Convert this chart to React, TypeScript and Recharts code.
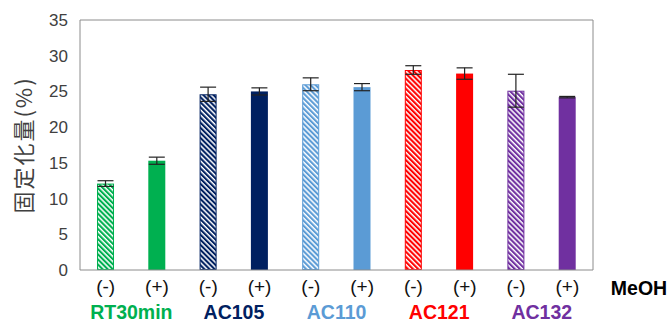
import React from 'react';
import { BarChart, Bar, XAxis, YAxis, ErrorBar, ReferenceLine } from 'recharts';

const categories = ['(-)', '(+)', '(-)', '(+)', '(-)', '(+)', '(-)', '(+)', '(-)', '(+)'];
const groups = ['RT30min', 'AC105', 'AC110', 'AC121', 'AC132'];
const values = [12.1, 15.3, 24.6, 25.0, 26.0, 25.6, 28.0, 27.5, 25.1, 24.2];
const errors = [0.4, 0.5, 1.0, 0.5, 0.9, 0.5, 0.6, 0.8, 2.3, 0.1];
const groupColors = ['#00B050', '#002060', '#5B9BD5', '#FF0000', '#7030A0'];
const yTicks = [0, 5, 10, 15, 20, 25, 30, 35];

const data = categories.map((c, i) => ({
  key: `${i}`,
  label: c,
  value: values[i],
  err: errors[i],
}));

const FONT = '"Liberation Sans", Arial, sans-serif';

const BarShape = (props: any) => {
  const { x, y, width, height, index } = props;
  const g = Math.floor(index / 2);
  const color = groupColors[g];
  const hatched = index % 2 === 0;
  const pid = `hatch-${index}`;
  if (!hatched) {
    return <rect x={x} y={y} width={width} height={height} fill={color} />;
  }
  return (
    <g>
      <defs>
        <pattern id={pid} width={3.6} height={3.6} patternUnits="userSpaceOnUse" patternTransform="rotate(-45)">
          <rect x={0} y={0} width={3.6} height={3.6} fill="#ffffff" />
          <rect x={0} y={0} width={2.1} height={3.6} fill={color} />
        </pattern>
      </defs>
      <rect x={x + 0.5} y={y + 0.5} width={width - 1} height={Math.max(0, height - 1)} fill={`url(#${pid})`} stroke={color} strokeWidth={1} />
    </g>
  );
};

const XTick = (props: any) => {
  const { x, y, payload, index } = props;
  const i = index ?? payload.index;
  return (
    <g>
      <text x={x} y={y + 15} textAnchor="middle" fontSize={19} fill="#111" fontFamily={FONT}>
        {categories[i]}
      </text>
      {i % 2 === 1 && (
        <text x={x - 25.6} y={y + 41} textAnchor="middle" fontSize={19.5} fontWeight="bold" fill={groupColors[(i - 1) / 2]} fontFamily={FONT}>
          {groups[(i - 1) / 2]}
        </text>
      )}
    </g>
  );
};

export default function App() {
  return (
    <div style={{ position: 'absolute', left: 0, top: 0, background: '#fff' }}>
      <BarChart width={669} height={324} data={data} margin={{ top: 20, right: 75, bottom: 0, left: 40 }} barCategoryGap={0}>
        <XAxis
          dataKey="key"
          height={54}
          tickLine={false}
          axisLine={{ stroke: '#8c8c8c' }}
          tick={<XTick />}
          interval={0}
        />
        <YAxis
          domain={[0, 35]}
          ticks={yTicks}
          width={40}
          tickLine={false}
          axisLine={{ stroke: '#8c8c8c' }}
          tick={{ fontSize: 17, fill: '#404040', fontFamily: FONT }}
          tickMargin={6}
        />
        <YAxis
          yAxisId="right"
          orientation="right"
          domain={[0, 35]}
          width={1}
          tick={false}
          tickLine={false}
          axisLine={{ stroke: '#8c8c8c' }}
        />
        <ReferenceLine y={35} stroke="#8c8c8c" />
        <Bar dataKey="value" barSize={17} shape={<BarShape />} isAnimationActive={false}>
          <ErrorBar dataKey="err" width={8} stroke="#222" strokeWidth={1.2} />
        </Bar>
        <text x={22} y={145} transform="rotate(-90 22 145)" textAnchor="middle" dominantBaseline="central" fontSize={22} letterSpacing={2} fill="#404040" fontFamily='"Noto Sans CJK JP", sans-serif'>
          固定化量(%)
        </text>
        <text x={639} y={295} textAnchor="middle" fontSize={19.5} fontWeight="bold" fill="#000" fontFamily={FONT}>
          MeOH
        </text>
      </BarChart>
    </div>
  );
}
